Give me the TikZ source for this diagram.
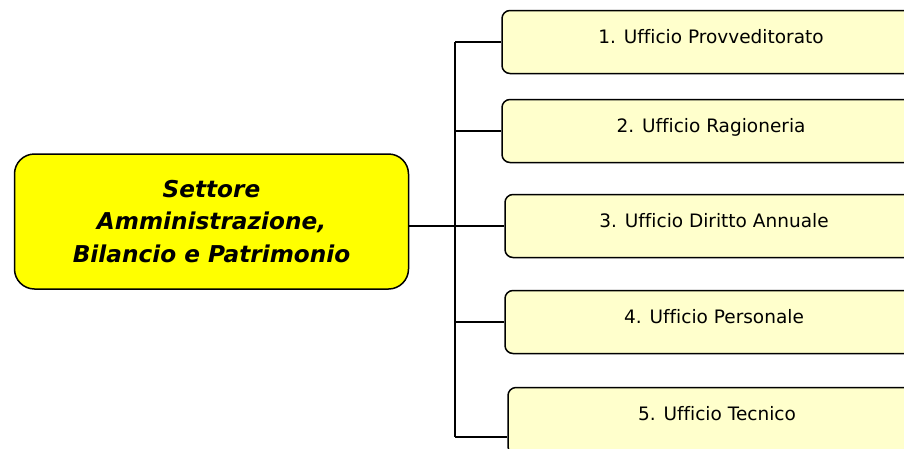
\documentclass[tikz,border=0pt]{standalone}
\usepackage{fontspec}
\setmainfont[Ligatures={NoCommon}]{DejaVu Sans}
\begin{document}
\begin{tikzpicture}[x=1pt,y=-1pt,
  mainbox/.style={draw=black,line width=1.5pt,fill={rgb,255:red,255;green,255;blue,0},rounded corners=20pt,
    minimum width=394pt,minimum height=135pt,inner sep=0pt,align=center,
    font=\fontsize{23.2}{32.5}\selectfont\bfseries\itshape},
  office/.style={draw=black,line width=1.5pt,fill={rgb,255:red,255;green,255;blue,204},
    rounded corners=8pt,minimum width=418pt,inner xsep=0pt,inner ysep=0pt,
    text height=33pt,text depth=30pt,font=\fontsize{18.5}{21}\selectfont},
  link/.style={draw=black,line width=1.5pt}]
\useasboundingbox (0,0) rectangle (904,448);
\node[mainbox] (main) at (211.5,221.5) {Settore\\Amministrazione,\\Bilancio e Patrimonio};
\node[office] (b1) at (711,42) {1. Ufficio Provveditorato};
\node[office] (b2) at (711,131) {2. Ufficio Ragioneria};
\node[office] (b3) at (714,226) {3. Ufficio Diritto Annuale};
\node[office] (b4) at (714,322) {4. Ufficio Personale};
\node[office,text depth=34pt] (b5) at (717,421) {5. Ufficio Tecnico};
\coordinate (bt) at (455,42);
\coordinate (bb) at (455,437);
\draw[link] (bt) -- (bb);
\draw[link] (b1.west -| bt) -- (b1.west);
\draw[link] (b2.west -| bt) -- (b2.west);
\draw[link] (main.east |- b3.west) -- (b3.west);
\draw[link] (b4.west -| bt) -- (b4.west);
\draw[link] (bb) -- (bb -| b5.west);
\end{tikzpicture}
\end{document}
